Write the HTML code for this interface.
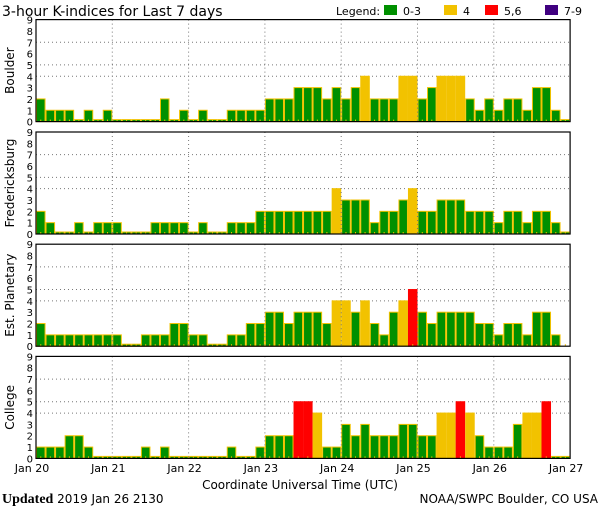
<!DOCTYPE html>
<html><head><meta charset="utf-8"><style>
html,body{margin:0;padding:0;background:#fff;}
svg{display:block;}
text{font-family:"DejaVu Sans","Liberation Sans",sans-serif;fill:#000;}
</style></head><body>
<svg id="s" width="600" height="510" xmlns="http://www.w3.org/2000/svg"></svg>
<script>
const s=document.getElementById('s');
const NS='http://www.w3.org/2000/svg';
function el(t,a,txt){const e=document.createElementNS(NS,t);for(const k in a)e.setAttribute(k,a[k]);if(txt!==undefined)e.textContent=txt;s.appendChild(e);return e;}
const data={
"Boulder":[2,1,1,1,0,1,0,1, 0,0,0,0,0,2,0,1, 0,1,0,0,1,1,1,1, 2,2,2,3,3,3,2,3, 2,3,4,2,2,2,4,4, 2,3,4,4,4,2,1,2, 1,2,2,1,3,3,1,0],
"Fredericksburg":[2,1,0,0,1,0,1,1, 1,0,0,0,1,1,1,1, 0,1,0,0,1,1,1,2, 2,2,2,2,2,2,2,4, 3,3,3,1,2,2,3,4, 2,2,3,3,3,2,2,2, 1,2,2,1,2,2,1,0],
"Est. Planetary":[2,1,1,1,1,1,1,1, 1,0,0,1,1,1,2,2, 1,1,0,0,1,1,2,2, 3,3,2,3,3,3,2,4, 4,3,4,2,1,3,4,5, 3,2,3,3,3,3,2,2, 1,2,2,1,3,3,1,-1],
"College":[1,1,1,2,2,1,0,0, 0,0,0,1,0,1,0,0, 0,0,0,0,1,0,0,1, 2,2,2,5,5,4,1,1, 3,2,3,2,2,2,3,3, 2,2,4,4,5,4,2,1, 1,1,3,4,4,5,0,0]};
const tops=[19.6,132,244.2,356.4];
const H=102,U=H/9,X0=36,DW=76.3,BW=DW/8,X1=X0+7*DW;
function col(v){return v<=3?'#009000':v==4?'#f2c200':v<=6?'#ff0000':'#400080';}
let i=0;
for(const name in data){
  const T=tops[i++],B=T+H;
  for(const k of [4,5,7]) el('line',{x1:X0,x2:X1,y1:B-k*U,y2:B-k*U,stroke:'#777','stroke-dasharray':'1,3'});
  data[name].forEach((v,j)=>{
    if(v<0)return;
    const x=X0+j*BW;
    const h=v==0?2:v*U;
    el('rect',{x:x+0.5,y:B-h,width:BW-1,height:h,fill:col(v),stroke:v>=5?'#ff0000':'#f2c200','stroke-width':1});
  });
  for(let d=1;d<7;d++) el('line',{x1:X0+d*DW,x2:X0+d*DW,y1:T,y2:B,stroke:'#777','stroke-dasharray':'1,3'});
  for(let j=0;j<56;j++) el('line',{x1:X0+j*BW+BW/2,x2:X0+j*BW+BW/2,y1:B-2,y2:B,stroke:'#f2c200'});
  el('rect',{x:X0,y:T,width:X1-X0,height:H,fill:'none',stroke:'#000','stroke-width':1.2});
  for(let k=0;k<=9;k++) el('text',{x:33,y:B-k*U+4,'font-size':10,'text-anchor':'end'},k);
  el('text',{x:0,y:0,'font-size':12,'text-anchor':'middle',transform:`translate(14,${T+H/2}) rotate(-90)`},name);
}
const days=['Jan 20','Jan 21','Jan 22','Jan 23','Jan 24','Jan 25','Jan 26','Jan 27'];
days.forEach((d,k)=>el('text',{x:X0+k*DW-4,y:472,'font-size':11,'text-anchor':'middle'},d));
el('text',{x:300,y:489,'font-size':12,'text-anchor':'middle'},'Coordinate Universal Time (UTC)');
const u=el('text',{x:2,y:503,'font-size':12});
const b=document.createElementNS(NS,'tspan');b.setAttribute('font-weight','bold');b.setAttribute('style','font-family:"Liberation Serif",serif;font-size:14px');b.textContent='Updated';u.appendChild(b);
const r=document.createElementNS(NS,'tspan');r.textContent=' 2019 Jan 26 2130';u.appendChild(r);
el('text',{x:598,y:503,'font-size':12,'text-anchor':'end'},'NOAA/SWPC Boulder, CO USA');
el('text',{x:2,y:16,'font-size':14},'3-hour K-indices for Last 7 days');
el('text',{x:336,y:15,'font-size':11},'Legend:');
[[384,'#009000','0-3'],[444,'#f2c200','4'],[485,'#ff0000','5,6'],[545,'#400080','7-9']].forEach(([x,c,t])=>{
  el('rect',{x:x,y:5,width:13,height:10,fill:c});
  el('text',{x:x+19,y:15,'font-size':11},t);
});
</script>
</body></html>
